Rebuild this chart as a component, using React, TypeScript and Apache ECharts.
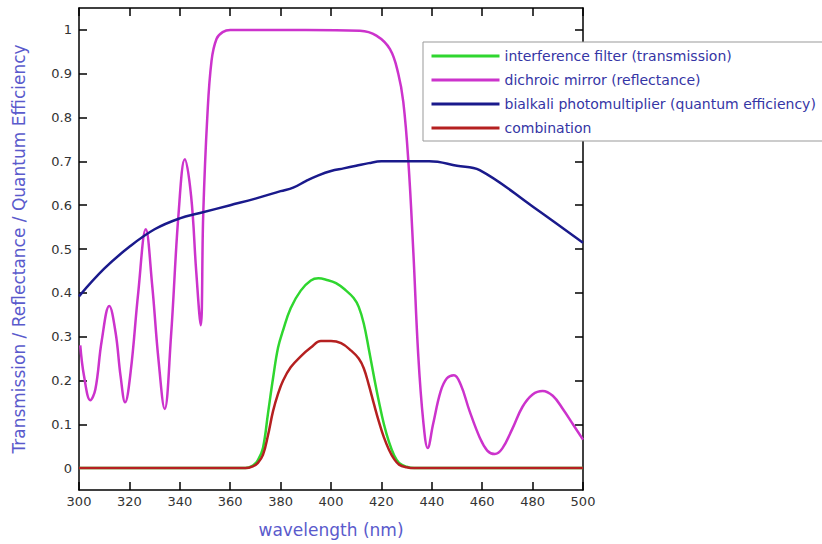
import React, { useEffect, useRef } from "react";
import * as echarts from "echarts";

const xTicks = [300, 320, 340, 360, 380, 400, 420, 440, 460, 480, 500];
const yTicks = [0, 0.1, 0.2, 0.3, 0.4, 0.5, 0.6, 0.7, 0.8, 0.9, 1];

const seriesNames = [
  "interference filter (transmission)",
  "dichroic mirror (reflectance)",
  "bialkali photomultiplier (quantum efficiency)",
  "combination",
];

const filterData: [number, number][] = [
  [300, 0], [366, 0], [369, 0.006], [371, 0.018], [373, 0.046], [375, 0.125],
  [377, 0.205], [379, 0.275], [381, 0.315], [384, 0.365], [388, 0.405],
  [392, 0.428], [395, 0.433], [398, 0.43], [402, 0.422], [406, 0.405],
  [409, 0.388], [411, 0.368], [413, 0.33], [415, 0.272], [417, 0.21],
  [419, 0.152], [421, 0.1], [423, 0.06], [425, 0.03], [427, 0.012],
  [430, 0.003], [433, 0], [500, 0],
];

const mirrorData: [number, number][] = [
  [300.5, 0.28], [302, 0.21], [304.5, 0.155], [306.5, 0.18], [309, 0.29],
  [312, 0.37], [314.5, 0.31], [316.5, 0.21], [318.3, 0.15], [320.5, 0.22],
  [323.5, 0.4], [326.5, 0.545], [329, 0.42], [331.5, 0.25], [334, 0.135],
  [336.5, 0.3], [339.5, 0.58], [342, 0.705], [344.5, 0.62], [346.5, 0.45],
  [348.3, 0.326], [349.3, 0.58], [350.9, 0.8], [352.6, 0.93], [354.6, 0.98],
  [357, 0.995], [360, 1.0], [390, 1.0], [411.5, 0.998], [418, 0.987],
  [423.4, 0.956], [426.7, 0.9], [428.7, 0.835], [430.7, 0.7], [432.7, 0.49],
  [434.6, 0.26], [436.6, 0.108], [438.4, 0.046], [440.5, 0.1], [443.5, 0.175],
  [446, 0.205], [448.8, 0.212], [451.5, 0.19], [455, 0.13], [459, 0.07],
  [462, 0.04], [465, 0.032], [468, 0.045], [472, 0.09], [476, 0.14],
  [480, 0.168], [484, 0.176], [488, 0.165], [492, 0.135], [496, 0.1],
  [500, 0.065],
];

const pmtData: [number, number][] = [
  [300, 0.392], [310, 0.455], [320, 0.505], [330, 0.545], [340, 0.57],
  [348, 0.582], [360, 0.6], [370, 0.615], [380, 0.632], [385, 0.64],
  [390, 0.655], [395, 0.668], [400, 0.678], [405, 0.684], [410, 0.69],
  [415, 0.696], [420, 0.7], [430, 0.7], [439, 0.7], [450, 0.69], [459, 0.68],
  [480, 0.597], [500, 0.514],
];

const combinationData: [number, number][] = [
  [300, 0], [366, 0], [369, 0.004], [371, 0.012], [373, 0.03], [375, 0.075],
  [377, 0.13], [379, 0.17], [381, 0.2], [384, 0.23], [388, 0.255],
  [392, 0.275], [396, 0.29], [400, 0.29], [404, 0.285], [408, 0.268],
  [411, 0.25], [413, 0.228], [415, 0.19], [417, 0.147], [419, 0.106],
  [421, 0.07], [423, 0.042], [425, 0.021], [427, 0.008], [430, 0.002],
  [433, 0], [500, 0],
];

const colors = ["#2fd62f", "#cc33cc", "#1a1a8c", "#b52020"];

export default function App() {
  const ref = useRef<HTMLDivElement>(null);
  useEffect(() => {
    document.body.style.margin = "0";
    if (!ref.current) return;
    const chart = echarts.init(ref.current, null, { renderer: "svg" });
    const font = "DejaVu Sans";
    const tickLabelStyle = { color: "#333", fontSize: 13, fontFamily: font };
    const axisLine = { show: true, onZero: false, lineStyle: { color: "#000", width: 1.5 } };
    const tick = { show: true, inside: true, length: 8, lineStyle: { color: "#000", width: 1.5 } };
    const datasets = [filterData, mirrorData, pmtData, combinationData];
    chart.setOption({
      animation: false,
      backgroundColor: "#fff",
      grid: { left: 79, top: 8, right: 239, bottom: 54, containLabel: false },
      legend: {
        left: 423,
        top: 42,
        orient: "vertical",
        backgroundColor: "#fff",
        borderColor: "#999",
        borderWidth: 1,
        padding: [7, 20, 6, 7],
        itemWidth: 68,
        itemHeight: 14,
        itemGap: 10,
        itemStyle: { opacity: 0 },
        lineStyle: { width: 3 },
        textStyle: { color: "#3535a5", fontSize: 14, fontFamily: font },
        data: seriesNames,
      },
      xAxis: [
        {
          type: "value",
          min: 300,
          max: 500,
          interval: 20,
          position: "bottom",
          name: "wavelength (nm)",
          nameLocation: "middle",
          nameGap: 31,
          nameTextStyle: { color: "#5a5acc", fontSize: 17, fontFamily: font },
          axisLine,
          axisTick: tick,
          axisLabel: { ...tickLabelStyle, margin: 5, showMinLabel: true, showMaxLabel: true },
          splitLine: { show: false },
        },
        {
          type: "value",
          min: 300,
          max: 500,
          interval: 20,
          position: "top",
          axisLine,
          axisTick: tick,
          axisLabel: { show: false },
          splitLine: { show: false },
        },
      ],
      yAxis: [
        {
          type: "value",
          min: -0.05,
          max: 1.05,
          position: "left",
          name: "Transmission / Reflectance / Quantum Efficiency",
          nameLocation: "middle",
          nameGap: 52,
          nameTextStyle: { color: "#5a5acc", fontSize: 17, fontFamily: font },
          axisLine,
          axisTick: { ...tick, customValues: yTicks },
          axisLabel: {
            ...tickLabelStyle,
            margin: 7,
            customValues: yTicks,
            formatter: (v: number) => String(Math.round(v * 10) / 10),
          },
          splitLine: { show: false },
        },
        {
          type: "value",
          min: -0.05,
          max: 1.05,
          position: "right",
          axisLine,
          axisTick: { ...tick, customValues: yTicks },
          axisLabel: { show: false, customValues: yTicks },
          splitLine: { show: false },
        },
      ],
      series: seriesNames.map((name, i) => ({
        name,
        type: "line",
        xAxisIndex: 0,
        yAxisIndex: 0,
        data: datasets[i],
        symbol: "none",
        smooth: 0.4,
        lineStyle: { color: colors[i], width: 2.5 },
        itemStyle: { color: colors[i] },
        z: 2 + i,
      })),
    });
    return () => chart.dispose();
  }, []);
  return <div ref={ref} style={{ width: 822, height: 544 }} />;
}
void xTicks;
